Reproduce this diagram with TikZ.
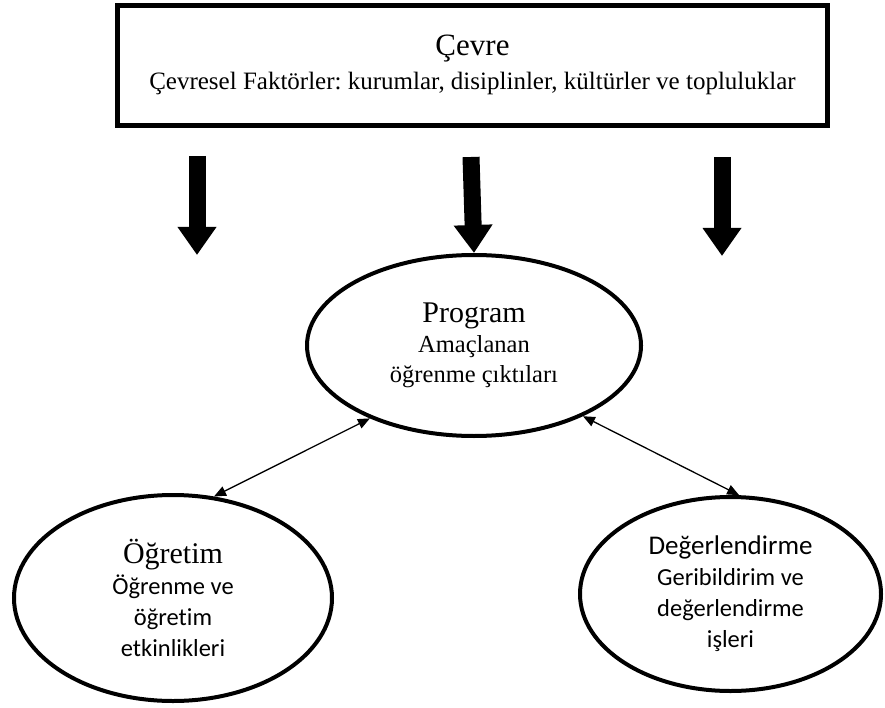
\documentclass[tikz,border=0pt]{standalone}
\usepackage{fontspec}
\setmainfont{Liberation Serif}
\newfontfamily\calibfont[Ligatures=NoCommon]{Carlito}
\usetikzlibrary{arrows.meta,shapes.geometric}
\frenchspacing

\begin{document}
\begin{tikzpicture}[x=1pt,y=-1pt,
  envbox/.style={draw, line width=5pt, minimum width=710pt, minimum height=120.5pt,
    inner sep=0pt, align=center, font=\fontsize{25}{34}\selectfont},
  bubble/.style={draw, ellipse, line width=4pt, inner sep=0pt, align=center},
  bigarrow/.style={line width=17pt, -{Triangle[width=37pt,length=28pt]}},
  link/.style={line width=1.3pt,
    {Triangle[width=10pt,length=12pt]}-{Triangle[width=10pt,length=12pt]}},
]
\useasboundingbox (0,0) rectangle (885,708);

% environment box
\node[envbox] (env) at (472.5,65.3)
  {{\fontsize{31}{31}\selectfont Çevre}\\
   Çevresel Faktörler: kurumlar, disiplinler, kültürler ve topluluklar};

% the three ellipses
\node[bubble, minimum width=334pt, minimum height=181pt,
      font=\fontsize{24.5}{30}\selectfont] (prog) at (474,345.5)
  {{\fontsize{30}{30}\selectfont Program}\\
   Amaçlanan\\ öğrenme çıktıları};

\node[bubble, minimum width=318pt, minimum height=206pt,
      font=\calibfont\fontsize{24.5}{31}\selectfont] (ogr) at (173,598)
  {{\rmfamily\fontsize{30}{30}\selectfont Öğretim}\\
   Öğrenme ve\\ öğretim\\ etkinlikleri};

\node[bubble, minimum width=301pt, minimum height=194pt,
      font=\calibfont\fontsize{24.5}{31}\selectfont] (deg) at (730.5,594)
  {{\fontsize{27}{31}\selectfont Değerlendirme}\\
   Geribildirim ve\\ değerlendirme\\ işleri};

% heavy arrows from the environment
\coordinate (s1) at (197,156);  \coordinate (e1) at (197,255);
\coordinate (s2) at (471,157);  \coordinate (e2) at (prog.north);
\coordinate (s3) at (722,157);  \coordinate (e3) at (722,256);
\draw[bigarrow] (s1) -- (e1);
\draw[bigarrow] (s2) -- (e2);
\draw[bigarrow] (s3) -- (e3);

% two-way links
\draw[link] (prog.215) -- (ogr.68.7);
\draw[link] (prog.327) -- (deg.85.8);
\end{tikzpicture}
\end{document}
